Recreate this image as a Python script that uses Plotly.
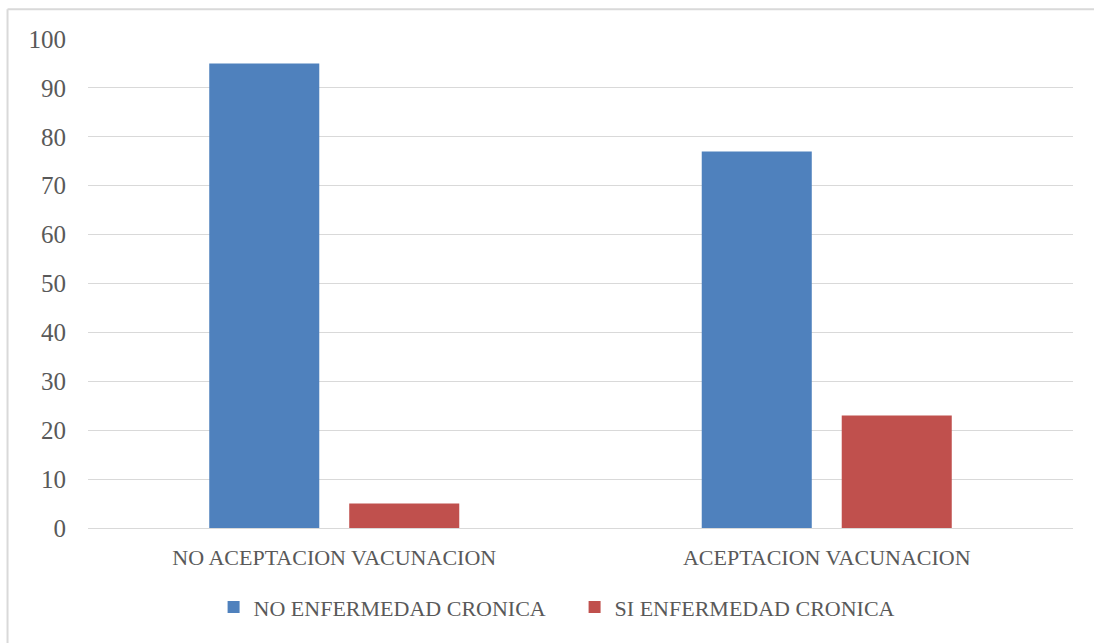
import plotly.graph_objects as go

categories = ["NO ACEPTACION VACUNACION", "ACEPTACION VACUNACION"]
no_cronica = [95, 77]
si_cronica = [5, 23]
tick_vals = [0, 10, 20, 30, 40, 50, 60, 70, 80, 90, 100]

FONT = "Liberation Serif"
TEXT = "#595959"

fig = go.Figure()
fig.add_trace(go.Bar(name="NO ENFERMEDAD CRONICA", x=categories, y=no_cronica,
                     marker=dict(color="#4F81BD", line=dict(width=0))))
fig.add_trace(go.Bar(name="SI ENFERMEDAD CRONICA", x=categories, y=si_cronica,
                     marker=dict(color="#C0504D", line=dict(width=0))))

# light frame on the top and left edges
frame = dict(type="line", xref="paper", yref="paper",
             line=dict(color="#D9D9D9", width=2))
fig.add_shape(**frame, x0=-0.0817, x1=1.05, y0=1.061, y1=1.061)
fig.add_shape(**frame, x0=-0.0817, x1=-0.0817, y0=1.061, y1=-0.3)

fig.update_layout(
    width=1094, height=643,
    margin=dict(l=88, r=21, t=39, b=115),
    paper_bgcolor="white", plot_bgcolor="white",
    barmode="group", bargap=0.4315, bargroupgap=0.214,
    font=dict(family=FONT, color=TEXT),
    showlegend=True,
    legend=dict(orientation="h", x=0.494, xanchor="center", y=-0.119, yanchor="top",
                font=dict(family=FONT, size=22, color=TEXT), entrywidth=316,
                traceorder="normal", itemclick=False),
    xaxis=dict(tickfont=dict(family=FONT, size=22, color=TEXT), showgrid=False,
               showline=True, linecolor="#D9D9D9", linewidth=1,
               ticks="outside", ticklen=10, tickcolor="white"),
    yaxis=dict(range=[0, 100], tickvals=tick_vals, tickfont=dict(family=FONT, size=25, color=TEXT),
               showgrid=True, gridcolor="#D9D9D9", gridwidth=1, zeroline=False,
               showline=False, ticks="outside", ticklen=16, tickcolor="white"),
)

fig.write_html("out.html")
